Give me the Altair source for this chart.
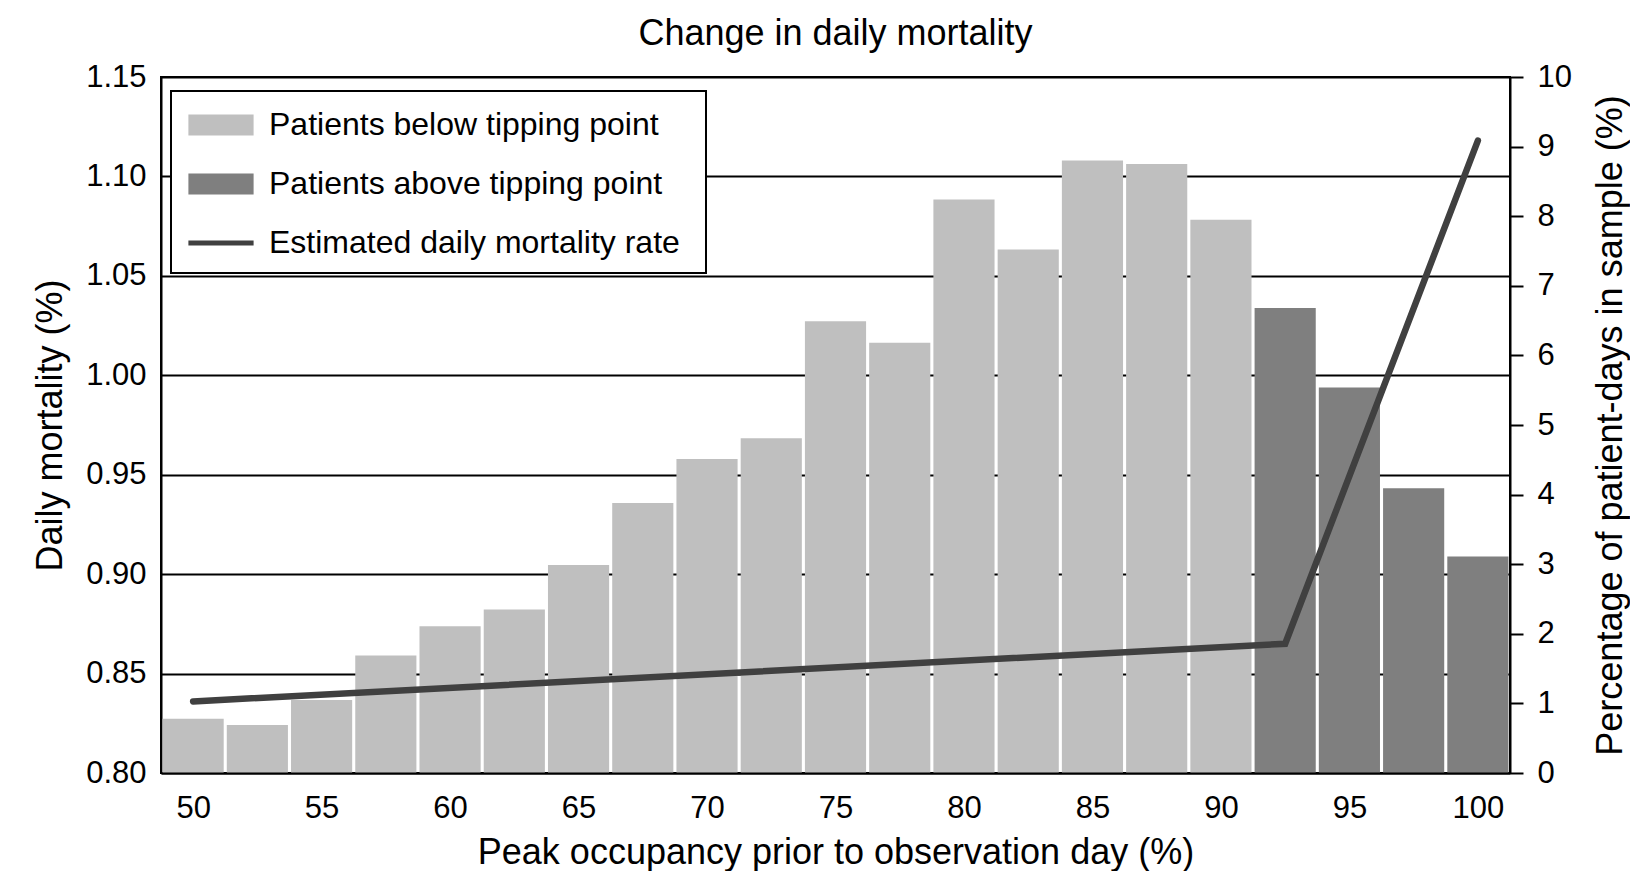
import altair as alt
import pandas as pd

# Peak occupancy bins (bar centres, %) and share of patient-days in each bin (%)
occupancy = [50, 52.5, 55, 57.5, 60, 62.5, 65, 67.5, 70, 72.5, 75,
             77.5, 80, 82.5, 85, 87.5, 90, 92.5, 95, 97.5, 100]
share_of_patient_days = [0.78, 0.69, 1.05, 1.69, 2.11, 2.35, 2.99, 3.88, 4.51, 4.81, 6.49,
                         6.18, 8.24, 7.52, 8.80, 8.75, 7.95, 6.68, 5.54, 4.09, 3.11]
tipping_point = 92.5

# Estimated daily mortality (%) along peak occupancy
rate_occupancy = [50, 92.5, 100]
daily_mortality = [0.836, 0.865, 1.118]

BELOW = "Patients below tipping point"
ABOVE = "Patients above tipping point"
RATE = "Estimated daily mortality rate"
legend_labels = [BELOW, ABOVE, RATE]

bin_width = 2.5
bar_gap = 0.12

bars_df = pd.DataFrame({
    "occupancy": occupancy,
    "share": share_of_patient_days,
    "label": [ABOVE if o >= tipping_point else BELOW for o in occupancy],
})
rate_df = pd.DataFrame({
    "occupancy": rate_occupancy,
    "mortality": daily_mortality,
    "label": [RATE] * len(rate_occupancy),
})
key_df = pd.DataFrame({"label": legend_labels})

FONT = "Liberation Sans"

x_scale = alt.Scale(domain=[48.75, 101.25], nice=False, zero=False)
x_axis = alt.Axis(
    title="Peak occupancy prior to observation day (%)",
    values=list(range(50, 101, 5)), format="d",
    ticks=False, tickSize=0, labelPadding=20, labelFlush=False,
    grid=False, domainColor="black", domainWidth=2, zindex=1,
    titleY=90, titleBaseline="alphabetic",
)

color_scale = alt.Scale(domain=legend_labels, range=["#bfbfbf", "#7f7f7f", "#404040"])

# legend keys: wide swatches for the bars, a thick stroke for the rate line
RECT_PATH = "M-1.63,-0.53L1.63,-0.53L1.63,0.53L-1.63,0.53Z"
LINE_PATH = "M-1.63,-0.13L1.63,-0.13L1.63,0.13L-1.63,0.13Z"
shape_scale = alt.Scale(domain=legend_labels, range=[RECT_PATH, RECT_PATH, LINE_PATH])

legend = alt.Legend(
    title=" ", titleOrient="right", titlePadding=12, titleFontSize=10,
    orient="none", legendX=10, legendY=14,
    fillColor="white", strokeColor="black", padding=14,
    symbolSize=1600, symbolStrokeWidth=0, symbolOffset=16, symbolOpacity=1,
    labelOffset=28, rowPadding=23, labelFontSize=32, labelFont=FONT,
    labelColor="black", labelLimit=0,
)

half = (bin_width - bar_gap) / 2
bars = alt.Chart(bars_df).transform_calculate(
    left=f"datum.occupancy - {half}",
    right=f"datum.occupancy + {half}",
).mark_bar(opacity=1).encode(
    x=alt.X("left:Q", scale=x_scale, axis=x_axis),
    x2="right:Q",
    y=alt.Y("share:Q", scale=alt.Scale(domain=[0, 10], nice=False, zero=True),
            axis=alt.Axis(orient="right", title="Percentage of patient-days in sample (%)",
                          values=list(range(0, 11)), format="d", grid=False,
                          ticks=True, tickSize=13, tickWidth=2, tickColor="black",
                          labelPadding=14, domainColor="black", domainWidth=2, zindex=1,
                          titleAngle=270, titleX=111, titleY=348,
                          titleBaseline="alphabetic", titleAlign="center")),
    y2=alt.datum(0),
    color=alt.Color("label:N", scale=color_scale, legend=legend),
)

line = alt.Chart(rate_df).mark_line(strokeWidth=6.5, strokeCap="round").encode(
    x=alt.X("occupancy:Q", scale=x_scale, axis=x_axis),
    y=alt.Y("mortality:Q", scale=alt.Scale(domain=[0.80, 1.15], nice=False, zero=False),
            axis=alt.Axis(orient="left", title="Daily mortality (%)",
                          values=[0.80, 0.85, 0.90, 0.95, 1.00, 1.05, 1.10, 1.15],
                          format=".2f", grid=True, gridColor="black", gridWidth=2,
                          gridOpacity=1, ticks=False, tickSize=0, labelPadding=15,
                          domainColor="black", domainWidth=2,
                          titleAngle=270, titleX=-100, titleY=348,
                          titleBaseline="alphabetic", titleAlign="center")),
    color=alt.Color("label:N", scale=color_scale, legend=None),
)

# empty layer that only contributes the shape channel to the shared legend
key = alt.Chart(key_df).transform_filter("false").mark_point(filled=True).encode(
    color=alt.Color("label:N", scale=color_scale, legend=legend),
    shape=alt.Shape("label:N", scale=shape_scale, legend=legend),
)

chart = alt.layer(bars, line, key).resolve_scale(y="independent").properties(
    width=1349, height=696,
    autosize=alt.AutoSizeParams(type="none"),
    padding={"left": 161, "top": 77, "right": 120, "bottom": 98},
    title=alt.TitleParams("Change in daily mortality", fontSize=36, fontWeight="normal",
                          font=FONT, color="black", anchor="middle", frame="group",
                          baseline="alphabetic", offset=30, dy=50),
).configure_view(
    stroke="black", strokeWidth=2,
).configure_axis(
    labelFont=FONT, titleFont=FONT, labelFontSize=31, titleFontSize=36,
    labelColor="black", titleColor="black", titleFontWeight="normal",
    labelOverlap=False,
).configure_legend(
    strokeWidth=2,
)

chart.save("out.html", embed_options={"renderer": "svg", "actions": False})
